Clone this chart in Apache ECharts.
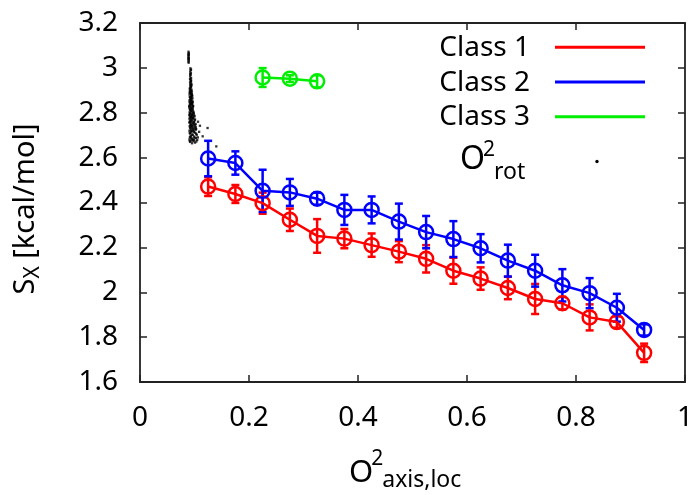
<!DOCTYPE html>
<html>
<head>
<meta charset="utf-8">
<script src="https://cdn.jsdelivr.net/npm/echarts@6/dist/echarts.min.js"></script>
<style>
html,body{margin:0;padding:0;background:#fff;}
#chart{width:696px;height:495px;}
</style>
</head>
<body>
<div id="chart"></div>
<script>
// ---- data ----
const binX = [0.125,0.175,0.225,0.275,0.325,0.375,0.425,0.475,0.525,0.575,0.625,0.675,0.725,0.775,0.825,0.875,0.925];
const class1Y = [2.471,2.438,2.397,2.323,2.251,2.239,2.210,2.181,2.149,2.096,2.061,2.019,1.970,1.951,1.888,1.867,1.730];
const class1Err = [0.042,0.040,0.047,0.050,0.075,0.043,0.052,0.047,0.061,0.058,0.050,0.050,0.067,0.028,0.058,0.025,0.041];
const class2Y = [2.596,2.576,2.452,2.445,2.417,2.367,2.367,2.315,2.268,2.237,2.196,2.141,2.096,2.031,1.996,1.931,1.832];
const class2Err = [0.079,0.052,0.094,0.060,0.027,0.067,0.060,0.080,0.072,0.080,0.063,0.071,0.071,0.072,0.067,0.062,0.025];
const class3X = [0.225,0.275,0.325];
const class3Y = [2.957,2.952,2.940];
const class3Err = [0.042,0.015,0.027];
const xTicks = [0,0.2,0.4,0.6,0.8,1];
const yTicks = [1.6,1.8,2,2.2,2.4,2.6,2.8,3,3.2];
const seriesNames = ['Class 1','Class 2','Class 3'];
// O^2_rot point cloud (x, y)
const rotCloud = [
[0.0890,3.072],[0.0895,3.066],[0.0890,3.061],[0.0893,3.055],[0.0889,3.049],[0.0894,3.044],[0.0891,3.038],[0.0895,3.033],[0.0890,3.028],[0.0893,3.023],[0.0892,3.058],[0.0890,3.041],
[0.0925,2.998],[0.0930,2.990],[0.0922,2.983],[0.0934,2.976],[0.0928,2.969],[0.0920,2.962],[0.0937,2.955],[0.0926,2.948],[0.0931,2.941],[0.0919,2.935],[0.0940,2.928],[0.0924,2.921],[0.0933,2.915],[0.0917,2.909],[0.0942,2.904],[0.0929,2.900],[0.0936,2.993],[0.0921,2.972],[0.0938,2.944],[0.0926,2.912],
[0.0915,2.896],[0.0948,2.892],[0.0930,2.887],[0.0910,2.881],[0.0955,2.878],[0.0938,2.873],[0.0920,2.868],[0.0962,2.864],[0.0945,2.859],[0.0908,2.855],[0.0932,2.851],[0.0968,2.846],[0.0915,2.842],[0.0950,2.838],[0.0927,2.833],[0.0975,2.829],[0.0905,2.825],[0.0942,2.821],[0.0960,2.816],[0.0918,2.812],[0.0935,2.808],[0.0980,2.805],[0.0910,2.802],[0.0952,2.884],[0.0925,2.862],[0.0940,2.844],[0.0970,2.823],[0.0928,2.815],
[0.0925,2.798],[0.0985,2.795],[0.0905,2.791],[0.0958,2.788],[0.1000,2.784],[0.0935,2.781],[0.0912,2.777],[0.0975,2.774],[0.1010,2.770],[0.0945,2.767],[0.0920,2.763],[0.0990,2.760],[0.0903,2.757],[0.0965,2.753],[0.1020,2.750],[0.0930,2.747],[0.0980,2.743],[0.0912,2.740],[0.1005,2.737],[0.0950,2.733],[0.0925,2.730],[0.1030,2.727],[0.0970,2.723],[0.0908,2.720],[0.0995,2.717],[0.0940,2.713],[0.1015,2.710],[0.0918,2.707],[0.0960,2.703],[0.1040,2.700],[0.0950,2.793],[0.0915,2.786],[0.0970,2.779],[0.0940,2.772],[0.0990,2.756],[0.0928,2.745],[0.1025,2.735],[0.0955,2.719],
[0.0932,2.697],[0.0990,2.694],[0.0915,2.690],[0.1025,2.687],[0.0960,2.684],[0.0908,2.681],[0.1050,2.679],[0.0945,2.676],[0.0985,2.673],[0.0920,2.670],[0.1010,2.667],[0.0955,2.664],
[0.1065,2.760],[0.1100,2.742],[0.1085,2.715],[0.1240,2.732],[0.1150,2.695],[0.1400,2.650],
[0.0918,2.951],[0.0935,2.938],[0.0923,2.926],[0.0941,2.918],[0.0915,2.906],[0.0947,2.898],[0.0921,2.893],[0.0939,2.883],[0.0958,2.874],[0.0913,2.871],[0.0944,2.866],[0.0929,2.857],[0.0961,2.852],[0.0912,2.848],[0.0953,2.840],[0.0922,2.836],[0.0971,2.832],[0.0938,2.827],[0.0911,2.819],[0.0966,2.812],[0.0945,2.806],[0.0984,2.799],[0.0919,2.795],[0.0962,2.790],[0.0995,2.787],[0.0931,2.783],[0.0978,2.776],[0.0909,2.771],[0.1003,2.766],[0.0954,2.762],[0.0927,2.755],[0.0981,2.751],[0.1012,2.745],[0.0943,2.741],[0.0918,2.734],[0.0972,2.731],[0.1022,2.725],[0.0935,2.722],[0.0987,2.714],[0.0913,2.711],[0.1034,2.706],[0.0965,2.701],[0.0926,2.693],[0.1002,2.689],[0.0942,2.686],[0.0971,2.678],[0.1035,2.672],[0.0913,2.674],[0.0992,2.680],[0.1062,2.690],[0.0957,2.742],[0.0999,2.728],[0.0921,2.758],[0.0949,2.779],[0.0968,2.801],[0.0903,2.831],[0.0957,2.847],[0.0934,2.869],[0.0912,2.889],[0.0944,2.925]
];

// ---- styling ----
const FONT = 'Noto Sans';
const colors = ['#ff0000','#0000ff','#00ee00'];
const axisColor = '#222';

const canvas = document.createElement('canvas');
const cx = canvas.getContext('2d');
function tw(t, s){ cx.font = s + 'px "' + FONT + '"'; return cx.measureText(t).width; }

function zip(xs, ys, es){ return xs.map((x,i)=> es ? [x, ys[i], es[i]] : [x, ys[i]]); }

function errRender(color){
  return function(params, api){
    const x = api.value(0), y = api.value(1), e = api.value(2);
    const top = api.coord([x, y + e]);
    const bot = api.coord([x, y - e]);
    const cw = 4;
    const st = {stroke: color, lineWidth: 2.5};
    return {type:'group', children:[
      {type:'line', shape:{x1:top[0], y1:top[1], x2:bot[0], y2:bot[1]}, style:st},
      {type:'line', shape:{x1:top[0]-cw, y1:top[1], x2:top[0]+cw, y2:top[1]}, style:st},
      {type:'line', shape:{x1:bot[0]-cw, y1:bot[1], x2:bot[0]+cw, y2:bot[1]}, style:st}
    ]};
  };
}

function lineSeries(name, data, color){
  return {
    name: name, type:'line', data: data, z: 3,
    symbol:'circle', symbolSize: 14,
    lineStyle:{color: color, width: 2.5},
    itemStyle:{color:'rgba(0,0,0,0)', borderColor: color, borderWidth: 2.5},
    emphasis:{disabled:true}, animation:false
  };
}
function errSeries(name, data, color){
  return {name: name, type:'custom', data: data, renderItem: errRender(color), z: 3, animation:false, silent:true};
}

const xAxisBase = {type:'value', min:0, max:1, interval:0.2,
  splitLine:{show:false},
  axisLine:{show:true, onZero:false, lineStyle:{color:axisColor, width:1.8}},
  axisTick:{show:true, inside:true, length:7, lineStyle:{color:axisColor, width:1.5}}};
const yAxisBase = {type:'value', min:1.6, max:3.2, interval:0.2,
  splitLine:{show:false},
  axisLine:{show:true, onZero:false, lineStyle:{color:axisColor, width:1.8}},
  axisTick:{show:true, inside:true, length:7, lineStyle:{color:axisColor, width:1.5}}};

const labelStyle = {fontFamily: FONT, fontSize: 28, color:'#000'};

function txt(t, x, y, size){
  return {type:'text', x:x, y:y, style:{text:t, fontFamily:FONT, fontSize:size, fill:'#000', textAlign:'left', textVerticalAlign:'middle'}};
}
// O with stacked superscript 2 and a subscript
function supSub(x, y, oSize, sub, supDy, subDy){
  const wO = tw('O', oSize);
  const w2 = tw('2', 21);
  return [
    txt('O', x, y, oSize),
    txt('2', x + wO - 2, y + supDy, 21),
    txt(sub, x + wO - 2 + w2 - 1, y + subDy, 23)
  ];
}

// graphic texts: legend + axis titles
const g = [];
const legY = [48, 83, 117.5];
const lineY = [47.3, 82, 116.7];
seriesNames.forEach((n,i)=>{
  g.push({type:'text', x: 530, y: legY[i], style:{text:n, fontFamily:FONT, fontSize:28, fill:'#000', textAlign:'right', textVerticalAlign:'middle'}});
  g.push({type:'rect', shape:{x:555, y:lineY[i]-1.5, width:90, height:3}, style:{fill:colors[i]}});
});
// O^2_rot legend entry
supSub(460, 160, 32, 'rot', -9.5, 12).forEach(e=>g.push(e));
g.push({type:'circle', shape:{cx:597, cy:161.5, r:1.7}, style:{fill:'#000'}});
// x-axis title O^2_axis,loc
supSub(349, 473, 31, 'axis,loc', -14, 7).forEach(e=>g.push(e));
// y-axis title S_X [kcal/mol], rotated
const wS = tw('S', 29), wX = tw('X', 21), wR = tw(' [kcal/mol]', 29);
const W = wS + wX + wR;
const x0 = -W/2;
g.push({type:'group', x: 26, y: 209, rotation: Math.PI/2, children:[
  txt('S', x0, 0, 29),
  txt('X', x0 + wS, 7, 21),
  txt(' [kcal/mol]', x0 + wS + wX, 0, 29)
]});

const option = {
  backgroundColor:'#fff',
  animation:false,
  grid:{left:140, right:10, top:23, bottom:113, containLabel:false},
  xAxis:[
    Object.assign({}, xAxisBase, {position:'bottom',
      axisLabel:Object.assign({show:true, margin:22, formatter:(v)=> xTicks.includes(+v.toFixed(1)) ? String(+v.toFixed(1)) : ''}, labelStyle)}),
    Object.assign({}, xAxisBase, {position:'top', axisLabel:{show:false}})
  ],
  yAxis:[
    Object.assign({}, yAxisBase, {position:'left',
      axisLabel:Object.assign({show:true, margin:22, formatter:(v)=> String(+v.toFixed(1))}, labelStyle)}),
    Object.assign({}, yAxisBase, {position:'right', axisLabel:{show:false}})
  ],
  graphic: g,
  series:[
    {name:'O2rot', type:'scatter', data: rotCloud, symbol:'rect', symbolSize:2.3, itemStyle:{color:'#000'}, z:2, animation:false, silent:true},
    errSeries('Class 1 err', zip(binX, class1Y, class1Err), colors[0]),
    lineSeries(seriesNames[0], zip(binX, class1Y), colors[0]),
    errSeries('Class 2 err', zip(binX, class2Y, class2Err), colors[1]),
    lineSeries(seriesNames[1], zip(binX, class2Y), colors[1]),
    errSeries('Class 3 err', zip(class3X, class3Y, class3Err), colors[2]),
    lineSeries(seriesNames[2], zip(class3X, class3Y), colors[2])
  ]
};
const chart = echarts.init(document.getElementById('chart'), null, {renderer:'canvas'});
chart.setOption(option);
</script>
</body>
</html>
